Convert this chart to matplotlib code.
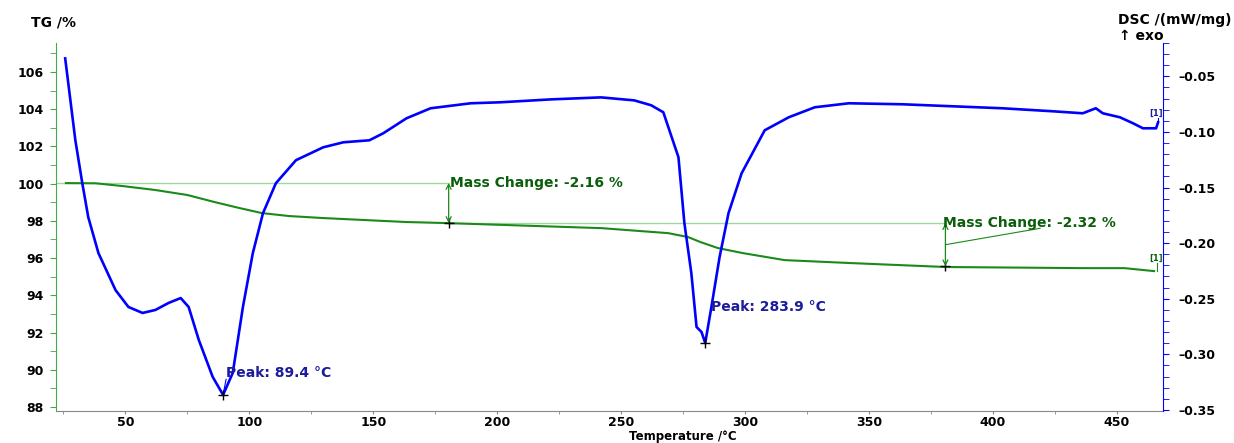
import numpy as np
import matplotlib
matplotlib.use("Agg")
import matplotlib.pyplot as plt

plt.rcParams['font.family'] = ['DejaVu Sans']

# TG curve (mass %) vs temperature
tg_temp = [26, 38, 49, 62, 75, 86, 96, 105, 116, 130, 163, 180, 242, 269, 277,
           282, 289, 299, 316, 343, 381, 436, 453, 465]
tg_mass = [100.03, 100.02, 99.87, 99.66, 99.39, 99.01, 98.69, 98.42, 98.26, 98.15,
           97.94, 97.88, 97.61, 97.34, 97.13, 96.86, 96.54, 96.27, 95.89, 95.73,
           95.52, 95.46, 95.46, 95.30]

# DSC curve (mW/mg) vs temperature
dsc_temp = [25.7, 29.8, 32.6, 35.0, 39.1, 46.0, 51.2, 56.9, 62.1, 67.4, 72.3, 75.5,
            79.6, 85.2, 89.4, 93.3, 97.4, 101.4, 105.5, 110.7, 118.8, 129.8, 137.9,
            148.4, 154.0, 163.4, 173.1, 189.3, 201.4, 221.7, 241.9, 255.3, 262.1,
            267.0, 273.1, 275.5, 278.3, 280.4, 282.4, 283.9, 286.4, 289.7, 293.3,
            298.6, 307.9, 317.6, 328.1, 341.9, 363.4, 383.6, 403.8, 424.1, 436.2,
            441.5, 444.3, 451.2, 456.5, 460.5, 465.8, 466.6]
dsc_val = [-0.0338, -0.1075, -0.1461, -0.1766, -0.2089, -0.2422, -0.2574, -0.2628,
           -0.2601, -0.2538, -0.2494, -0.2574, -0.2871, -0.3203, -0.3365, -0.3167,
           -0.2574, -0.2089, -0.1730, -0.1461, -0.1254, -0.1138, -0.1093, -0.1075,
           -0.1012, -0.0877, -0.0787, -0.0742, -0.0733, -0.0707, -0.0689, -0.0716,
           -0.0760, -0.0823, -0.1227, -0.1820, -0.2269, -0.2754, -0.2799, -0.2898,
           -0.2574, -0.2125, -0.1730, -0.1371, -0.0985, -0.0868, -0.0778, -0.0742,
           -0.0751, -0.0769, -0.0787, -0.0814, -0.0832, -0.0787, -0.0832, -0.0868,
           -0.0922, -0.0967, -0.0967, -0.0913]

# evaluation marks
mc_start = [22, 180.4]        # reference line start temps
mc_end = [180.4, 380.8]       # mass change end temps
mc_level = [100.04, 97.88]    # level before step
mc_after = [97.88, 95.56]
mc_labels = ["Mass Change: -2.16 %", "Mass Change: -2.32 %"]
peak_temp = [89.4, 283.9]
peak_val = [-0.3365, -0.2898]
peak_labels = ["Peak: 89.4 °C", "Peak: 283.9 °C"]

green = "#1a8a1a"
lightgreen = "#9fd89f"
txtgreen = "#0b5e0b"
blue = "#0000ff"
txtblue = "#1c1c9c"
fs = 10      # annotation text
tfs = 9      # tick labels

fig = plt.figure(figsize=(12.34, 4.43), dpi=100)
ax = fig.add_axes([0.0454, 0.0722, 0.8971, 0.8307])
ax2 = ax.twinx()

ax.set_xlim(22, 468.6)
ax.set_ylim(87.78, 107.56)
ax2.set_ylim(-0.351, -0.0204)

# reference lines for mass change
for s, e, lv in zip(mc_start, mc_end, mc_level):
    ax.plot([s, e], [lv, lv], color=lightgreen, lw=1.0, zorder=1)

ax.plot(tg_temp, tg_mass, color=green, lw=1.5, zorder=2)
ax2.plot(dsc_temp, dsc_val, color=blue, lw=1.9, zorder=3)

# mass change arrows and labels
for e, lv, la in zip(mc_end, mc_level, mc_after):
    ax.annotate("", xy=(e, la), xytext=(e, lv),
                arrowprops=dict(arrowstyle="<->", color=green, lw=0.9,
                                shrinkA=0, shrinkB=0, mutation_scale=9))
    ax.plot([e], [la], marker="+", color="black", ms=7, mew=1.0)
ax.text(mc_end[0] + 0.5, mc_level[0], mc_labels[0], color=txtgreen, fontsize=fs,
        fontweight="bold", va="center", ha="left")
ax.text(mc_end[1] - 1, mc_level[1] - 0.02, mc_labels[1], color=txtgreen, fontsize=fs,
        fontweight="bold", va="center", ha="left")
ax.plot([mc_end[1], 419], [(mc_level[1] + mc_after[1]) / 2, 97.6], color=green, lw=0.8)

# "[1]" end tags
ax.plot([tg_temp[-1] + 1.3, tg_temp[-1] + 1.3], [tg_mass[-1], 95.72], color=green, lw=0.8)
ax.text(465.6, 95.72, "[1]", color=txtgreen, fontsize=6, fontweight="bold",
        ha="center", va="bottom")
ax2.plot([dsc_temp[-1], dsc_temp[-1]], [dsc_val[-1], -0.0875], color=blue, lw=0.8)
ax2.text(465.6, -0.0875, "[1]", color=txtblue, fontsize=6, fontweight="bold",
         ha="center", va="bottom")

# peak markers
for pt, pv in zip(peak_temp, peak_val):
    ax2.plot([pt], [pv], marker="+", color="black", ms=7, mew=1.0, zorder=4)
ax2.plot([peak_temp[0], peak_temp[0] + 1.2], [peak_val[0], -0.3225], color=blue, lw=0.8)
ax2.text(peak_temp[0] + 1.2, -0.3172, peak_labels[0], color=txtblue, fontsize=fs,
         fontweight="bold", va="center", ha="left")
ax2.text(peak_temp[1] + 2.3, -0.2575, peak_labels[1], color=txtblue, fontsize=fs,
         fontweight="bold", va="center", ha="left")

# spines and ticks
for a in (ax, ax2):
    a.spines['top'].set_visible(False)
ax.spines['right'].set_visible(False)
ax2.spines['left'].set_visible(False)
ax2.spines['bottom'].set_visible(False)
ax.spines['left'].set_color("#44aa44")
ax.spines['bottom'].set_color("#888888")
ax2.spines['right'].set_color(blue)

ax.set_xticks(np.arange(50, 451, 50))
ax.set_xticks(np.arange(25, 468, 25), minor=True)
ax.set_yticks(np.arange(88, 107, 2))
ax.set_yticks(np.arange(88, 108, 1), minor=True)
ax2.set_yticks(np.arange(-0.35, -0.049, 0.05))
ax2.set_yticks(np.arange(-0.35, -0.019, 0.01), minor=True)
ax2.set_yticklabels([f"{v:.2f}".replace("-", "\u2013") for v in np.arange(-0.35, -0.049, 0.05)])

ax.tick_params(axis='x', which='both', direction='out', colors="#888888", labelcolor="black",
               labelsize=tfs, pad=1)
ax.tick_params(axis='x', which='major', length=2.5)
ax.tick_params(axis='x', which='minor', length=2)
ax.tick_params(axis='y', which='both', direction='out', colors="#44aa44", labelcolor="black",
               labelsize=tfs, length=4, pad=5)
ax2.tick_params(axis='y', which='both', direction='out', colors=blue, labelcolor="black",
                labelsize=tfs, length=4, pad=7)
for lab in ax.get_xticklabels() + ax.get_yticklabels() + ax2.get_yticklabels():
    lab.set_fontweight("bold")

fig.text(0.025, 0.95, "TG /%", fontsize=fs, fontweight="bold", ha="left", va="center")
fig.text(0.998, 0.955, "DSC /(mW/mg)", fontsize=fs, fontweight="bold", ha="right", va="center")
fig.text(0.943, 0.918, "\u2191 exo", fontsize=fs, fontweight="bold", ha="right", va="center")
fig.text(0.553, 0.0, "Temperature /°C", fontsize=8.5, fontweight="bold", ha="center",
         va="bottom")

fig.savefig("out.png", dpi=100)
